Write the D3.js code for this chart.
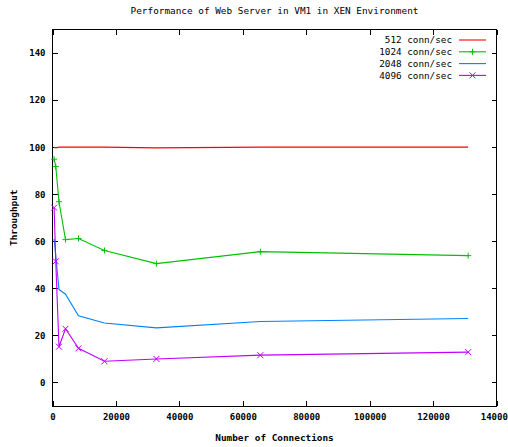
<!DOCTYPE html>
<html>
<head>
<meta charset="utf-8">
<script src="https://cdn.jsdelivr.net/npm/d3@7"></script>
<style>
  body { margin: 0; background: #fff; }
  svg { display: block; font-family: "DejaVu Sans Mono", monospace; }
</style>
</head>
<body>
<div id="chart"></div>
<script>
// number of connections (x)
var connections = [512, 1024, 2048, 4096, 8192, 16384, 32768, 65536, 131072];

// throughput per request rate
var rate512  = [100, 99.7, 100, 100, 100, 100, 99.7, 100, 100];
var rate1024 = [94.9, 91.8, 76.8, 60.7, 61.2, 56.1, 50.5, 55.6, 53.9];
var rate2048 = [61, 54, 39.5, 37.5, 28.3, 25.3, 23.2, 25.9, 27.2];
var rate4096 = [74.3, 51.5, 15.2, 22.8, 14.5, 9.0, 10.0, 11.6, 12.9];

var seriesNames = ["512 conn/sec", "1024 conn/sec", "2048 conn/sec", "4096 conn/sec"];
var xTicks = [0, 20000, 40000, 60000, 80000, 100000, 120000, 140000];
var yTicks = [0, 20, 40, 60, 80, 100, 120, 140];

var width = 508, height = 447;
var margin = {top: 29.5, left: 52.5, right: 11.5, bottom: 41};
var innerW = width - margin.left - margin.right;
var innerH = height - margin.top - margin.bottom;

var svg = d3.select('#chart')
  .append('svg')
    .attr('width', width)
    .attr('height', height);

var g = svg.append('g')
  .attr('transform', 'translate(' + margin.left + ',' + margin.top + ')');

var xScale = d3.scaleLinear().domain([0, 140000]).range([0, innerW]);
var yScale = d3.scaleLinear().domain([-10, 150]).range([innerH, 0]);

var colors = ["#ff0000", "#00c000", "#0080ff", "#c000ff"];
var markers = [null, "plus", "cross", null];
markers = [null, "plus", null, "cross"];

var series = [rate512, rate1024, rate2048, rate4096].map(function (vals, i) {
  return {
    name: seriesNames[i],
    color: colors[i],
    marker: markers[i],
    values: vals.map(function (v, j) { return {x: connections[j], y: v}; })
  };
});

///////////////////// title //////////////////////////////
svg.append('text')
  .attr('x', margin.left + innerW / 2)
  .attr('y', 14)
  .attr('text-anchor', 'middle')
  .attr('font-size', 9.4)
  .attr('fill', '#000')
  .text('Performance of Web Server in VM1 in XEN Environment');

///////////////////// axes //////////////////////////////
var tickStyle = function (sel) {
  sel.select('.domain').remove();
  sel.selectAll('line').attr('stroke', '#000').attr('shape-rendering', 'crispEdges');
};

g.append('g')
  .attr('transform', 'translate(0,' + innerH + ')')
  .call(d3.axisBottom(xScale).tickValues(xTicks).tickSize(-5).tickPadding(8).tickFormat(d3.format('d')))
  .call(tickStyle)
  .selectAll('text')
    .attr('font-family', '"DejaVu Sans Mono", monospace')
    .attr('font-size', 9)
    .attr('font-weight', 'bold')
    .attr('fill', '#000');

g.append('g')
  .call(d3.axisTop(xScale).tickValues(xTicks).tickSize(-5).tickFormat(''))
  .call(tickStyle);

g.append('g')
  .call(d3.axisLeft(yScale).tickValues(yTicks).tickSize(-5).tickPadding(7))
  .call(tickStyle)
  .selectAll('text')
    .attr('font-family', '"DejaVu Sans Mono", monospace')
    .attr('font-size', 9)
    .attr('font-weight', 'bold')
    .attr('fill', '#000');

g.append('g')
  .attr('transform', 'translate(' + innerW + ',0)')
  .call(d3.axisRight(yScale).tickValues(yTicks).tickSize(-5).tickFormat(''))
  .call(tickStyle);

g.append('rect')
  .attr('width', innerW)
  .attr('height', innerH)
  .attr('fill', 'none')
  .attr('stroke', '#000')
  .attr('shape-rendering', 'crispEdges');

// axis labels
svg.append('text')
  .attr('x', margin.left + innerW / 2)
  .attr('y', 441)
  .attr('text-anchor', 'middle')
  .attr('font-size', 9.4)
  .attr('font-weight', 'bold')
  .text('Number of Connections');

svg.append('text')
  .attr('transform', 'translate(17,' + (margin.top + innerH / 2) + ') rotate(-90)')
  .attr('text-anchor', 'middle')
  .attr('font-size', 9.4)
  .attr('font-weight', 'bold')
  .text('Throughput');

///////////////////// lines //////////////////////////////
var line = d3.line()
  .x(function (d) { return xScale(d.x); })
  .y(function (d) { return yScale(d.y); });

function markerPath(type, s) {
  if (type === 'plus') return 'M' + (-s) + ',0H' + s + 'M0,' + (-s) + 'V' + s;
  return 'M' + (-s) + ',' + (-s) + 'L' + s + ',' + s + 'M' + (-s) + ',' + s + 'L' + s + ',' + (-s);
}

var item = g.selectAll('.item')
  .data(series)
  .enter().append('g')
    .attr('class', 'item');

item.append('path')
  .attr('d', function (d) { return line(d.values); })
  .attr('fill', 'none')
  .attr('stroke', function (d) { return d.color; })
  .attr('stroke-width', 1.1);

item.each(function (d) {
  if (!d.marker) return;
  d3.select(this).selectAll('.pt')
    .data(d.values)
    .enter().append('path')
      .attr('class', 'pt')
      .attr('transform', function (p) { return 'translate(' + xScale(p.x) + ',' + yScale(p.y) + ')'; })
      .attr('d', markerPath(d.marker, 3))
      .attr('stroke', d.color)
      .attr('stroke-width', 1)
      .attr('fill', 'none');
});

///////////////////// legend //////////////////////////////
var legend = svg.append('g')
  .attr('transform', 'translate(' + 452 + ',' + 40 + ')');

var row = legend.selectAll('.legendRow')
  .data(series)
  .enter().append('g')
    .attr('class', 'legendRow')
    .attr('transform', function (d, i) { return 'translate(0,' + (i * 11.8) + ')'; });

row.append('text')
  .attr('text-anchor', 'end')
  .attr('dy', '0.35em')
  .attr('font-size', 9.3)
  .attr('fill', '#000')
  .text(function (d) { return d.name; });

row.append('line')
  .attr('x1', 7)
  .attr('x2', 34)
  .attr('stroke', function (d) { return d.color; })
  .attr('stroke-width', 1.1);

row.filter(function (d) { return d.marker; })
  .append('path')
    .attr('transform', 'translate(20.5,0)')
    .attr('d', function (d) { return markerPath(d.marker, 3); })
    .attr('stroke', function (d) { return d.color; })
    .attr('fill', 'none');
</script>
</body>
</html>
